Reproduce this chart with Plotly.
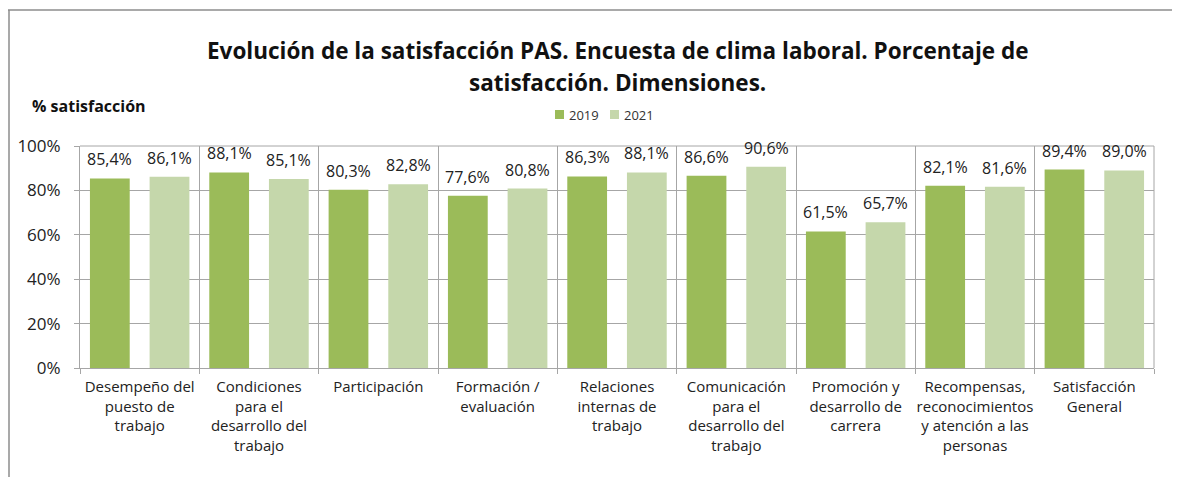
import plotly.graph_objects as go

categories = [
    "Desempeño del<br>puesto de<br>trabajo",
    "Condiciones<br>para el<br>desarrollo del<br>trabajo",
    "Participación",
    "Formación /<br>evaluación",
    "Relaciones<br>internas de<br>trabajo",
    "Comunicación<br>para el<br>desarrollo del<br>trabajo",
    "Promoción y<br>desarrollo de<br>carrera",
    "Recompensas,<br>reconocimientos<br>y atención a las<br>personas",
    "Satisfacción<br>General",
]
values_2019 = [85.4, 88.1, 80.3, 77.6, 86.3, 86.6, 61.5, 82.1, 89.4]
values_2021 = [86.1, 85.1, 82.8, 80.8, 88.1, 90.6, 65.7, 81.6, 89.0]
series_names = ["2019", "2021"]
colors = ["#9BBB59", "#C5D7AB"]

FONT = "Open Sans"
OFF = 8  # page body margin offset

def fmt(v):
    return f"{v:.1f}".replace(".", ",") + "%"

fig = go.Figure()
for name, vals, col in zip(series_names, [values_2019, values_2021], colors):
    fig.add_trace(go.Bar(
        x=categories, y=[v / 100 for v in vals], name=name,
        marker=dict(color=col, line=dict(width=0)),
        cliponaxis=False, showlegend=False,
    ))

W, H = 1164, 469
L, T = 80 - OFF, 146 - OFF
R = W - (1154 - OFF)
B = H - (368 - OFF)
pw, ph = W - L - R, H - T - B

def px(x):
    return (x - OFF - L) / pw

def py(y):
    return (H - B - (y - OFF)) / ph

slot = pw / len(categories) / 2
annots = []
for si, vals in enumerate([values_2019, values_2021]):
    shift = (-0.5 + si) * slot
    for cat, v in zip(categories, vals):
        annots.append(dict(
            text=fmt(v), x=cat, y=v / 100, xref="x", yref="y",
            xshift=shift, yshift=6, yanchor="bottom", xanchor="center",
            showarrow=False, font=dict(size=16, family=FONT, color="#222222")))

# manual legend (compact, like the original)
shapes = []
legend_x = [555, 610]
for lx, name, col in zip(legend_x, series_names, colors):
    shapes.append(dict(type="rect", xref="paper", yref="paper",
                       x0=px(lx), x1=px(lx + 9), y0=py(119), y1=py(110),
                       fillcolor=col, line=dict(width=0)))
    annots.append(dict(text=name, x=px(lx + 12), y=py(115), xref="paper", yref="paper",
                       showarrow=False, xanchor="left", yanchor="middle",
                       font=dict(size=13, family=FONT, color="#333333")))

annots += [
    dict(text="<b>Evolución de la satisfacción PAS. Encuesta de clima laboral. Porcentaje de</b>",
         x=px(617), y=py(50), xref="paper", yref="paper", showarrow=False,
         xanchor="center", yanchor="middle", font=dict(size=22.5, family=FONT, color="#111111")),
    dict(text="<b>satisfacción. Dimensiones.</b>",
         x=px(617), y=py(82), xref="paper", yref="paper", showarrow=False,
         xanchor="center", yanchor="middle", font=dict(size=22.5, family=FONT, color="#111111")),
    dict(text="<b>% satisfacción</b>",
         x=px(30), y=py(106), xref="paper", yref="paper", showarrow=False,
         xanchor="left", yanchor="middle", font=dict(size=16, family=FONT, color="#111111")),
]

shapes += [
    dict(type="line", xref="paper", yref="paper", x0=px(9), x1=px(9), y0=py(10), y1=py(485 + OFF),
         line=dict(color="#8C8C8C", width=1.5)),
    dict(type="line", xref="paper", yref="paper", x0=px(8), x1=px(1180 + OFF), y0=py(10), y1=py(10),
         line=dict(color="#8C8C8C", width=1.5)),
    dict(type="line", xref="paper", yref="paper", x0=1, x1=1, y0=0, y1=1,
         line=dict(color="#A6A6A6", width=1)),
    dict(type="line", xref="paper", yref="paper", x0=0, x1=1, y0=1, y1=1,
         line=dict(color="#A6A6A6", width=1)),
]

fig.update_layout(
    width=W, height=H,
    margin=dict(l=L, r=R, t=T, b=B, autoexpand=False),
    paper_bgcolor="white", plot_bgcolor="white",
    font=dict(family=FONT, color="#222222"),
    barmode="group", bargap=0.0, bargroupgap=1/3,
    showlegend=False,
    xaxis=dict(tickson="boundaries", showgrid=True, gridcolor="#A6A6A6", gridwidth=1,
               ticks="outside", ticklen=5, tickcolor="#A6A6A6", tickangle=0, automargin=False,
               showline=True, linecolor="#A6A6A6", ticklabelstandoff=5,
               tickfont=dict(size=15, family=FONT, color="#222222"),
               mirror=False),
    yaxis=dict(range=[0, 1], tickvals=[0, 0.2, 0.4, 0.6, 0.8, 1.0],
               ticktext=["0%", "20%", "40%", "60%", "80%", "100%"],
               showgrid=True, gridcolor="#A6A6A6", gridwidth=1, automargin=False,
               ticks="outside", ticklen=5, tickcolor="#A6A6A6",
               showline=True, linecolor="#A6A6A6", zeroline=False, ticklabelstandoff=10,
               tickfont=dict(size=17, family=FONT, color="#222222")),
    annotations=annots,
    shapes=shapes,
)

fig.write_html("out.html")
